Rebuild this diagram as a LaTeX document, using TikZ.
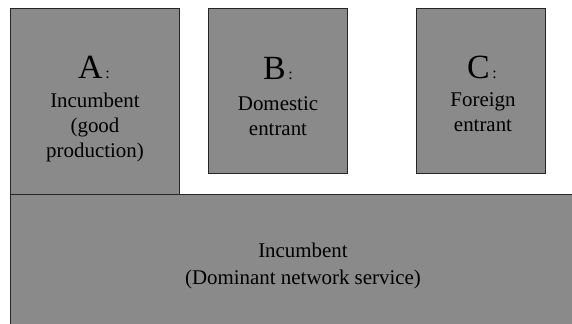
\documentclass[tikz,border=0pt]{standalone}
\usepackage{fontspec}
\setmainfont{Liberation Serif}
\tikzset{
  firm/.style={draw=black!85, fill=black!46, line width=0.8bp},
  tag/.style={font=\fontsize{34}{34}\selectfont, inner sep=0pt, anchor=base},
  desc/.style={font=\fontsize{21}{25}\selectfont, align=center, inner sep=0pt, anchor=base},
}
\newcommand{\dotcolon}{{\fontsize{16}{16}\selectfont\,:}}

\begin{document}
\begin{tikzpicture}[x=1bp, y=-1bp]
	\useasboundingbox (0, 0) rectangle (572, 323);
	%%%%% boxes %%%%%
	\draw[firm] (10, 8) rectangle (179, 194);
	\draw[firm] (208, 8) rectangle (347, 173);
	\draw[firm] (416, 8) rectangle (545, 173);
	\draw[firm] (10, 194) rectangle (600, 340);
	
	%%%%% A %%%%%
	\node[tag] (tagA) at (94, 78) {A\dotcolon};
	\node[desc] (descA) at (95, 157) {Incumbent\\(good\\production)};
	
	%%%%% B %%%%%
	\node[tag] (tagB) at (278, 79) {B\dotcolon};
	\node[desc] (descB) at (278, 135) {Domestic\\entrant};
	
	%%%%% C %%%%%
	\node[tag] (tagC) at (482, 78) {C\dotcolon};
	\node[desc] (descC) at (483, 131) {Foreign\\entrant};
	
	%%%%% network %%%%%
	\node[desc, font=\fontsize{21}{27}\selectfont] (descNet) at (303, 284) {Incumbent\\(Dominant network service)};
\end{tikzpicture}
\end{document}
